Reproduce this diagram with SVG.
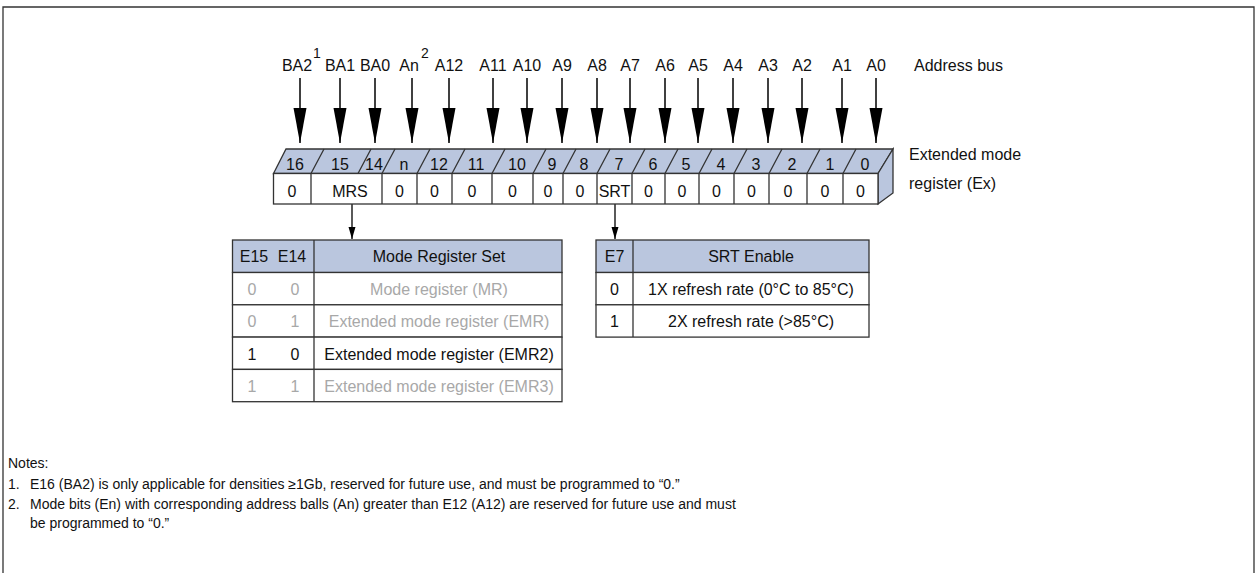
<svg xmlns="http://www.w3.org/2000/svg" width="1259" height="573" viewBox="0 0 1259 573">
<defs>
<style>
text{font-family:"Liberation Sans",Arial,sans-serif;fill:#111;}
.lbl{font-size:16px;text-anchor:middle;}
.sup{font-size:14px;}
.num{font-size:16px;text-anchor:middle;}
.cell{font-size:16px;text-anchor:middle;}
.tb{font-size:16px;text-anchor:middle;}
.gray{fill:#a8a8a8;}
.note{font-size:14px;}
.ln{stroke:#333;stroke-width:1.3;fill:none;}
.band{fill:#bac6de;stroke:#333;stroke-width:1.3;}
.front{fill:#fff;stroke:#333;stroke-width:1.3;}
.hdr{fill:#bac6de;stroke:#333;stroke-width:1.3;}
.row{fill:#fff;stroke:#333;stroke-width:1.3;}
.arr{stroke:#000;stroke-width:1.5;fill:none;marker-end:url(#big);}
.sarr{stroke:#000;stroke-width:1.3;fill:none;marker-end:url(#small);}
</style>
<marker id="big" markerUnits="userSpaceOnUse" markerWidth="36" markerHeight="14" refX="35" refY="7" orient="auto" viewBox="0 0 36 14">
<path d="M0,0.5 L35,7 L0,13.5 z" fill="#000"/>
</marker>
<marker id="small" markerUnits="userSpaceOnUse" markerWidth="13" markerHeight="8" refX="12" refY="4" orient="auto" viewBox="0 0 13 8">
<path d="M0,0.5 L12,4 L0,7.5 z" fill="#000"/>
</marker>
</defs>

<rect x="0" y="0" width="1259" height="573" fill="#fff"/>
<path d="M3,573 V7 H1254 V573" stroke="#333" stroke-width="1.3" fill="none"/>

<g id="address-bus">
<text class="lbl" x="297" y="71">BA2</text><text class="sup" x="313" y="58">1</text>
<text class="lbl" x="340" y="71">BA1</text>
<text class="lbl" x="375" y="71">BA0</text>
<text class="lbl" x="409" y="71">An</text><text class="sup" x="421" y="58">2</text>
<text class="lbl" x="449" y="71">A12</text>
<text class="lbl" x="493" y="71">A11</text>
<text class="lbl" x="527" y="71">A10</text>
<text class="lbl" x="562" y="71">A9</text>
<text class="lbl" x="597" y="71">A8</text>
<text class="lbl" x="630" y="71">A7</text>
<text class="lbl" x="665" y="71">A6</text>
<text class="lbl" x="698" y="71">A5</text>
<text class="lbl" x="733" y="71">A4</text>
<text class="lbl" x="768" y="71">A3</text>
<text class="lbl" x="802" y="71">A2</text>
<text class="lbl" x="842" y="71">A1</text>
<text class="lbl" x="876" y="71">A0</text>
<text class="lbl" x="914" y="71" style="text-anchor:start">Address bus</text>
</g>

<g id="connectors">
<line class="arr" x1="300" y1="78" x2="300" y2="143"/>
<line class="arr" x1="340" y1="78" x2="340" y2="143"/>
<line class="arr" x1="375" y1="78" x2="375" y2="143"/>
<line class="arr" x1="412" y1="78" x2="412" y2="143"/>
<line class="arr" x1="449" y1="78" x2="449" y2="143"/>
<line class="arr" x1="493" y1="78" x2="493" y2="143"/>
<line class="arr" x1="527" y1="78" x2="527" y2="143"/>
<line class="arr" x1="562" y1="78" x2="562" y2="143"/>
<line class="arr" x1="597" y1="78" x2="597" y2="143"/>
<line class="arr" x1="630" y1="78" x2="630" y2="143"/>
<line class="arr" x1="665" y1="78" x2="665" y2="143"/>
<line class="arr" x1="698" y1="78" x2="698" y2="143"/>
<line class="arr" x1="733" y1="78" x2="733" y2="143"/>
<line class="arr" x1="768" y1="78" x2="768" y2="143"/>
<line class="arr" x1="802" y1="78" x2="802" y2="143"/>
<line class="arr" x1="842" y1="78" x2="842" y2="143"/>
<line class="arr" x1="876" y1="78" x2="876" y2="143"/>
<line class="sarr" x1="352" y1="204" x2="352" y2="239"/>
<line class="sarr" x1="615" y1="204" x2="615" y2="239"/>
</g>

<g id="register">
<polygon class="band" points="273.5,173.5 286,149 893,149 878,173.5"/>
<polygon class="band" points="878,173.5 893,149 893,193 878,204"/>
<rect class="front" x="273.5" y="173.5" width="604.5" height="30.5"/>
<path class="ln" d="M311,173.5 l13,-24.5 M358,173.5 l13,-24.5 M382,173.5 l13,-24.5 M417,173.5 l13,-24.5 M452,173.5 l13,-24.5 M492,173.5 l13,-24.5 M533,173.5 l13,-24.5 M563,173.5 l13,-24.5 M597,173.5 l13,-24.5 M632,173.5 l13,-24.5 M665,173.5 l13,-24.5 M699,173.5 l13,-24.5 M734,173.5 l13,-24.5 M769,173.5 l13,-24.5 M807,173.5 l13,-24.5 M843,173.5 l13,-24.5"/>
<path class="ln" d="M311,173.5 V204 M382,173.5 V204 M417,173.5 V204 M452,173.5 V204 M492,173.5 V204 M533,173.5 V204 M563,173.5 V204 M597,173.5 V204 M632,173.5 V204 M665,173.5 V204 M699,173.5 V204 M734,173.5 V204 M769,173.5 V204 M807,173.5 V204 M843,173.5 V204"/>
<text class="num" x="295" y="170">16</text>
<text class="num" x="340" y="170">15</text>
<text class="num" x="374" y="170">14</text>
<text class="num" x="404" y="170">n</text>
<text class="num" x="439" y="170">12</text>
<text class="num" x="476" y="170">11</text>
<text class="num" x="517" y="170">10</text>
<text class="num" x="552" y="170">9</text>
<text class="num" x="584" y="170">8</text>
<text class="num" x="619" y="170">7</text>
<text class="num" x="653" y="170">6</text>
<text class="num" x="686" y="170">5</text>
<text class="num" x="721" y="170">4</text>
<text class="num" x="756" y="170">3</text>
<text class="num" x="792" y="170">2</text>
<text class="num" x="830" y="170">1</text>
<text class="num" x="865" y="170">0</text>
<text class="cell" x="292" y="197">0</text>
<text class="cell" x="350" y="197">MRS</text>
<text class="cell" x="399.5" y="197">0</text>
<text class="cell" x="434.5" y="197">0</text>
<text class="cell" x="472" y="197">0</text>
<text class="cell" x="512.5" y="197">0</text>
<text class="cell" x="548" y="197">0</text>
<text class="cell" x="580" y="197">0</text>
<text class="cell" x="614.5" y="197">SRT</text>
<text class="cell" x="648.5" y="197">0</text>
<text class="cell" x="682" y="197">0</text>
<text class="cell" x="716.5" y="197">0</text>
<text class="cell" x="751.5" y="197">0</text>
<text class="cell" x="788" y="197">0</text>
<text class="cell" x="825" y="197">0</text>
<text class="cell" x="860.5" y="197">0</text>
<text class="lbl" x="909" y="160" style="text-anchor:start">Extended mode</text>
<text class="lbl" x="909" y="189" style="text-anchor:start">register (Ex)</text>
</g>

<g id="mrs-table">
<rect class="hdr" x="232.5" y="240" width="329.5" height="32.5"/>
<rect class="row" x="232.5" y="272.5" width="329.5" height="32.3"/>
<rect class="row" x="232.5" y="304.8" width="329.5" height="32.3"/>
<rect class="row" x="232.5" y="337.1" width="329.5" height="32.3"/>
<rect class="row" x="232.5" y="369.4" width="329.5" height="32.3"/>
<line class="ln" x1="314" y1="240" x2="314" y2="401.7"/>
<text class="tb" x="254" y="262">E15</text>
<text class="tb" x="292" y="262">E14</text>
<text class="tb" x="439" y="262">Mode Register Set</text>
<text class="tb gray" x="252" y="295">0</text><text class="tb gray" x="295" y="295">0</text>
<text class="tb gray" x="439" y="295">Mode register (MR)</text>
<text class="tb gray" x="252" y="327">0</text><text class="tb gray" x="295" y="327">1</text>
<text class="tb gray" x="439" y="327">Extended mode register (EMR)</text>
<text class="tb" x="252" y="359.5">1</text><text class="tb" x="295" y="359.5">0</text>
<text class="tb" x="439" y="359.5">Extended mode register (EMR2)</text>
<text class="tb gray" x="252" y="392">1</text><text class="tb gray" x="295" y="392">1</text>
<text class="tb gray" x="439" y="392">Extended mode register (EMR3)</text>
</g>

<g id="srt-table">
<rect class="hdr" x="596" y="240" width="273" height="32.5"/>
<rect class="row" x="596" y="272.5" width="273" height="32.3"/>
<rect class="row" x="596" y="304.8" width="273" height="32.3"/>
<line class="ln" x1="633" y1="240" x2="633" y2="337.1"/>
<text class="tb" x="614.5" y="262">E7</text>
<text class="tb" x="751" y="262">SRT Enable</text>
<text class="tb" x="614.5" y="295">0</text>
<text class="tb" x="751" y="295">1X refresh rate (0°C to 85°C)</text>
<text class="tb" x="614.5" y="327">1</text>
<text class="tb" x="751" y="327">2X refresh rate (&gt;85°C)</text>
</g>

<g id="notes">
<text class="note" x="8" y="468">Notes:</text>
<text class="note" x="8" y="489">1.</text>
<text class="note" x="30" y="489">E16 (BA2) is only applicable for densities ≥1Gb, reserved for future use, and must be programmed to “0.”</text>
<text class="note" x="8" y="509">2.</text>
<text class="note" x="30" y="509">Mode bits (En) with corresponding address balls (An) greater than E12 (A12) are reserved for future use and must</text>
<text class="note" x="30" y="528">be programmed to “0.”</text>
</g>
</svg>
